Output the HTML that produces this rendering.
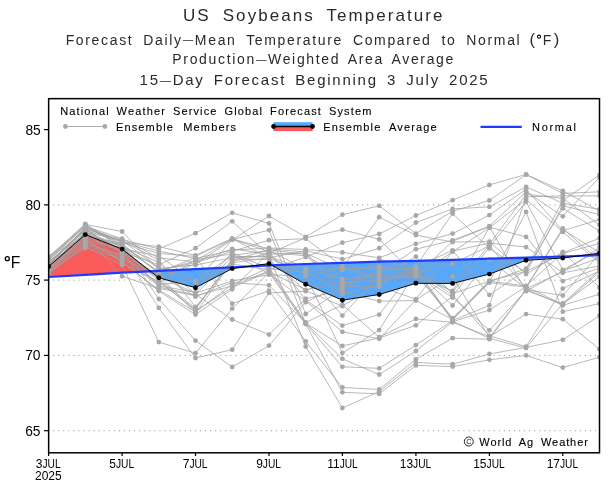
<!DOCTYPE html>
<html><head><meta charset="utf-8"><title>US Soybeans Temperature</title>
<style>html,body{margin:0;padding:0;background:#fff}svg{display:block}</style></head>
<body>
<svg width="616" height="485" viewBox="0 0 616 485" style="will-change:transform">
<rect width="616" height="485" fill="#fff"/>
<defs><clipPath id="cp"><rect x="48.6" y="98.6" width="550.9" height="354.2"/></clipPath></defs>
<g clip-path="url(#cp)">
<polygon points="48.6,266.5 85.3,234.6 122.1,249.1 150.4,271.2 150.4,271.2 122.1,272.7 85.3,274.8 48.6,277.0" fill="#fa5a5a"/>
<polygon points="248.2,266.4 269.0,263.6 271.8,265.2 271.8,265.2 269.0,265.3 248.2,266.4" fill="#fa5a5a"/>
<polygon points="579.0,255.9 599.5,253.2 599.5,255.1 579.0,255.9" fill="#fa5a5a"/>
<polygon points="150.4,271.2 158.8,277.8 195.5,287.7 232.2,268.6 248.2,266.4 248.2,266.4 232.2,267.3 195.5,269.1 158.8,270.8 150.4,271.2" fill="#55a8fc"/>
<polygon points="271.8,265.2 305.7,284.3 342.4,300.2 379.2,294.5 415.9,283.3 452.6,283.4 489.4,274.1 526.1,260.3 562.8,258.0 579.0,255.9 579.0,255.9 562.8,256.5 526.1,257.7 489.4,258.6 452.6,259.8 415.9,260.8 379.2,261.7 342.4,262.8 305.7,264.0 271.8,265.2" fill="#55a8fc"/>
<line x1="53.05" x2="599" y1="204.9" y2="204.9" stroke="#8c8c8c" stroke-width="0.9" stroke-dasharray="1.1 3.965"/>
<line x1="53.05" x2="599" y1="280.1" y2="280.1" stroke="#8c8c8c" stroke-width="0.9" stroke-dasharray="1.1 3.965"/>
<line x1="53.05" x2="599" y1="355.4" y2="355.4" stroke="#8c8c8c" stroke-width="0.9" stroke-dasharray="1.1 3.965"/>
<line x1="53.05" x2="599" y1="430.7" y2="430.7" stroke="#8c8c8c" stroke-width="0.9" stroke-dasharray="1.1 3.965"/>
<g stroke="#a0a0a0" stroke-width="0.75" fill="none" stroke-linejoin="round">
<polyline points="48.6,256.5 85.3,226.2 122.1,238.7 158.8,257.9 195.5,261.8 232.2,248.8 269.0,254.2 305.7,253.2 342.4,269.7 379.2,266.3 415.9,271.1 452.6,305.5 489.4,259.7 526.1,288.6 562.8,271.9 599.5,247.5"/>
<polyline points="48.6,257.2 85.3,223.8 122.1,248.5 158.8,277.8 195.5,263.9 232.2,239.9 269.0,216.0 305.7,236.9 342.4,214.7 379.2,205.8 415.9,233.6 452.6,211.2 489.4,200.4 526.1,174.7 562.8,193.4 599.5,191.8"/>
<polyline points="48.6,257.9 85.3,225.0 122.1,246.4 158.8,262.5 195.5,294.1 232.2,319.5 269.0,334.6 305.7,298.7 342.4,290.3 379.2,259.3 415.9,269.5 452.6,318.8 489.4,282.6 526.1,287.2 562.8,228.4 599.5,261.0"/>
<polyline points="48.6,258.6 85.3,225.6 122.1,242.2 158.8,246.6 195.5,255.3 232.2,238.4 269.0,258.6 305.7,273.3 342.4,315.6 379.2,274.8 415.9,276.7 452.6,251.8 489.4,227.7 526.1,199.3 562.8,231.9 599.5,263.0"/>
<polyline points="48.6,259.2 85.3,231.1 122.1,263.5 158.8,281.8 195.5,309.5 232.2,259.0 269.0,259.5 305.7,290.5 342.4,306.2 379.2,283.3 415.9,268.7 452.6,321.1 489.4,338.4 526.1,348.1 562.8,303.3 599.5,270.0"/>
<polyline points="48.6,259.9 85.3,226.8 122.1,244.3 158.8,299.0 195.5,340.6 232.2,367.0 269.0,345.6 305.7,302.2 342.4,284.6 379.2,273.1 415.9,249.2 452.6,240.3 489.4,226.1 526.1,191.8 562.8,216.3 599.5,177.4"/>
<polyline points="48.6,260.6 85.3,224.4 122.1,231.5 158.8,269.8 195.5,262.8 232.2,251.3 269.0,240.2 305.7,238.7 342.4,266.3 379.2,278.2 415.9,256.6 452.6,293.6 489.4,281.2 526.1,285.9 562.8,252.8 599.5,238.2"/>
<polyline points="48.6,261.3 85.3,233.6 122.1,247.1 158.8,267.0 195.5,282.6 232.2,239.6 269.0,230.1 305.7,323.6 342.4,366.8 379.2,368.3 415.9,345.1 452.6,320.5 489.4,305.4 526.1,196.8 562.8,195.9 599.5,195.9"/>
<polyline points="48.6,262.0 85.3,234.2 122.1,249.9 158.8,307.8 195.5,358.0 232.2,349.7 269.0,292.9 305.7,291.2 342.4,268.9 379.2,268.0 415.9,270.3 452.6,294.9 489.4,335.8 526.1,346.6 562.8,288.6 599.5,271.0"/>
<polyline points="48.6,262.5 85.3,228.1 122.1,242.9 158.8,253.4 195.5,256.4 232.2,238.8 269.0,248.9 305.7,252.0 342.4,294.1 379.2,285.0 415.9,266.3 452.6,213.5 489.4,248.4 526.1,272.7 562.8,205.8 599.5,214.5"/>
<polyline points="48.6,263.0 85.3,229.3 122.1,239.4 158.8,248.9 195.5,233.2 232.2,212.8 269.0,223.4 305.7,314.0 342.4,288.4 379.2,269.7 415.9,267.9 452.6,292.3 489.4,244.3 526.1,194.3 562.8,198.4 599.5,224.8"/>
<polyline points="48.6,263.5 85.3,230.5 122.1,240.8 158.8,260.2 195.5,307.0 232.2,262.8 269.0,257.7 305.7,250.8 342.4,259.2 379.2,248.2 415.9,222.6 452.6,208.9 489.4,206.8 526.1,186.8 562.8,203.3 599.5,209.3"/>
<polyline points="48.6,264.0 85.3,229.9 122.1,250.6 158.8,279.1 195.5,308.3 232.2,260.3 269.0,249.8 305.7,254.5 342.4,280.8 379.2,271.4 415.9,272.7 452.6,320.0 489.4,281.6 526.1,268.7 562.8,200.8 599.5,174.9"/>
<polyline points="48.6,264.5 85.3,234.8 122.1,245.7 158.8,287.1 195.5,294.9 232.2,256.4 269.0,256.8 305.7,274.8 342.4,353.1 379.2,330.1 415.9,271.9 452.6,264.1 489.4,245.7 526.1,287.9 562.8,229.6 599.5,252.6"/>
<polyline points="48.6,265.0 85.3,227.5 122.1,241.5 158.8,251.1 195.5,258.5 232.2,250.1 269.0,248.0 305.7,249.5 342.4,252.4 379.2,257.8 415.9,243.8 452.6,233.6 489.4,215.1 526.1,189.3 562.8,230.7 599.5,219.6"/>
<polyline points="48.6,265.5 85.3,228.7 122.1,253.2 158.8,275.1 195.5,313.3 232.2,261.5 269.0,253.3 305.7,237.8 342.4,229.7 379.2,239.3 415.9,275.9 452.6,241.2 489.4,226.6 526.1,291.2 562.8,270.9 599.5,258.0"/>
<polyline points="48.6,266.0 85.3,235.4 122.1,252.0 158.8,264.7 195.5,248.2 232.2,221.3 269.0,255.1 305.7,346.5 342.4,408.0 379.2,391.5 415.9,362.5 452.6,364.2 489.4,354.0 526.1,347.4 562.8,339.8 599.5,315.7"/>
<polyline points="48.6,266.5 85.3,232.3 122.1,240.1 158.8,268.5 195.5,265.0 232.2,257.7 269.0,256.0 305.7,270.4 342.4,268.0 379.2,217.2 415.9,235.1 452.6,242.0 489.4,241.6 526.1,274.0 562.8,252.0 599.5,287.5"/>
<polyline points="48.6,267.0 85.3,232.9 122.1,245.0 158.8,272.5 195.5,257.5 232.2,303.7 269.0,290.7 305.7,341.5 342.4,387.4 379.2,389.5 415.9,359.2 452.6,338.2 489.4,339.2 526.1,289.2 562.8,305.3 599.5,294.2"/>
<polyline points="48.6,267.5 85.3,231.7 122.1,249.2 158.8,255.7 195.5,281.9 232.2,264.1 269.0,269.8 305.7,257.0 342.4,242.7 379.2,234.0 415.9,215.5 452.6,200.2 489.4,184.9 526.1,174.4 562.8,190.9 599.5,211.0"/>
<polyline points="48.6,268.0 85.3,238.9 122.1,262.1 158.8,289.8 195.5,312.1 232.2,284.3 269.0,267.8 305.7,322.5 342.4,304.8 379.2,337.2 415.9,318.9 452.6,322.3 489.4,336.6 526.1,314.1 562.8,319.2 599.5,349.2"/>
<polyline points="48.6,268.5 85.3,236.6 122.1,243.6 158.8,273.8 195.5,296.7 232.2,282.6 269.0,285.3 305.7,323.2 342.4,345.9 379.2,338.0 415.9,325.3 452.6,296.2 489.4,247.0 526.1,201.8 562.8,270.0 599.5,250.6"/>
<polyline points="48.6,269.0 85.3,236.0 122.1,276.3 158.8,288.4 195.5,295.8 232.2,285.9 269.0,270.8 305.7,322.9 342.4,358.8 379.2,374.5 415.9,351.0 452.6,321.7 489.4,310.1 526.1,286.6 562.8,304.6 599.5,272.0"/>
<polyline points="48.6,269.5 85.3,242.8 122.1,256.1 158.8,283.1 195.5,259.6 232.2,253.9 269.0,273.7 305.7,301.0 342.4,331.8 379.2,338.8 415.9,299.8 452.6,276.4 489.4,337.5 526.1,289.9 562.8,295.5 599.5,254.0"/>
<polyline points="48.6,270.1 85.3,237.6 122.1,251.3 158.8,280.5 195.5,310.8 232.2,287.6 269.0,271.7 305.7,289.8 342.4,282.7 379.2,279.9 415.9,273.5 452.6,297.5 489.4,330.3 526.1,290.5 562.8,304.0 599.5,276.8"/>
<polyline points="48.6,270.7 85.3,240.2 122.1,260.6 158.8,291.1 195.5,314.6 232.2,289.3 269.0,252.4 305.7,255.8 342.4,286.5 379.2,286.7 415.9,299.1 452.6,251.1 489.4,243.0 526.1,247.1 562.8,272.8 599.5,266.0"/>
<polyline points="48.6,271.3 85.3,248.0 122.1,259.1 158.8,276.5 195.5,293.2 232.2,280.9 269.0,274.7 305.7,276.2 342.4,267.1 379.2,281.6 415.9,275.1 452.6,291.0 489.4,227.2 526.1,236.9 562.8,281.1 599.5,268.0"/>
<polyline points="48.6,272.0 85.3,241.5 122.1,247.8 158.8,271.2 195.5,260.7 232.2,239.2 269.0,251.5 305.7,299.9 342.4,325.6 379.2,314.6 415.9,267.1 452.6,250.3 489.4,294.9 526.1,270.0 562.8,208.3 599.5,231.0"/>
<polyline points="48.6,272.6 85.3,245.4 122.1,257.6 158.8,285.8 195.5,292.3 232.2,252.6 269.0,268.8 305.7,271.9 342.4,292.2 379.2,301.1 415.9,300.6 452.6,319.4 489.4,282.1 526.1,211.9 562.8,311.7 599.5,303.6"/>
<polyline points="48.6,273.2 85.3,246.7 122.1,265.0 158.8,342.1 195.5,353.2 232.2,308.6 269.0,272.7 305.7,324.0 342.4,392.3 379.2,393.9 415.9,365.4 452.6,366.6 489.4,359.8 526.1,355.4 562.8,367.6 599.5,357.2"/>
<polyline points="48.6,273.8 85.3,244.1 122.1,254.7 158.8,284.5 195.5,281.1 232.2,255.2 269.0,250.7 305.7,269.0 342.4,278.9 379.2,276.5 415.9,274.3 452.6,318.2 489.4,280.7 526.1,271.4 562.8,253.5 599.5,243.4"/>
</g>
<g fill="#a8a8a8">
<circle cx="48.6" cy="256.5" r="2.4"/>
<circle cx="85.3" cy="226.2" r="2.4"/>
<circle cx="122.1" cy="238.7" r="2.4"/>
<circle cx="158.8" cy="257.9" r="2.4"/>
<circle cx="195.5" cy="261.8" r="2.4"/>
<circle cx="232.2" cy="248.8" r="2.4"/>
<circle cx="269.0" cy="254.2" r="2.4"/>
<circle cx="305.7" cy="253.2" r="2.4"/>
<circle cx="342.4" cy="269.7" r="2.4"/>
<circle cx="379.2" cy="266.3" r="2.4"/>
<circle cx="415.9" cy="271.1" r="2.4"/>
<circle cx="452.6" cy="305.5" r="2.4"/>
<circle cx="489.4" cy="259.7" r="2.4"/>
<circle cx="526.1" cy="288.6" r="2.4"/>
<circle cx="562.8" cy="271.9" r="2.4"/>
<circle cx="599.5" cy="247.5" r="2.4"/>
<circle cx="48.6" cy="257.2" r="2.4"/>
<circle cx="85.3" cy="223.8" r="2.4"/>
<circle cx="122.1" cy="248.5" r="2.4"/>
<circle cx="158.8" cy="277.8" r="2.4"/>
<circle cx="195.5" cy="263.9" r="2.4"/>
<circle cx="232.2" cy="239.9" r="2.4"/>
<circle cx="269.0" cy="216.0" r="2.4"/>
<circle cx="305.7" cy="236.9" r="2.4"/>
<circle cx="342.4" cy="214.7" r="2.4"/>
<circle cx="379.2" cy="205.8" r="2.4"/>
<circle cx="415.9" cy="233.6" r="2.4"/>
<circle cx="452.6" cy="211.2" r="2.4"/>
<circle cx="489.4" cy="200.4" r="2.4"/>
<circle cx="526.1" cy="174.7" r="2.4"/>
<circle cx="562.8" cy="193.4" r="2.4"/>
<circle cx="599.5" cy="191.8" r="2.4"/>
<circle cx="48.6" cy="257.9" r="2.4"/>
<circle cx="85.3" cy="225.0" r="2.4"/>
<circle cx="122.1" cy="246.4" r="2.4"/>
<circle cx="158.8" cy="262.5" r="2.4"/>
<circle cx="195.5" cy="294.1" r="2.4"/>
<circle cx="232.2" cy="319.5" r="2.4"/>
<circle cx="269.0" cy="334.6" r="2.4"/>
<circle cx="305.7" cy="298.7" r="2.4"/>
<circle cx="342.4" cy="290.3" r="2.4"/>
<circle cx="379.2" cy="259.3" r="2.4"/>
<circle cx="415.9" cy="269.5" r="2.4"/>
<circle cx="452.6" cy="318.8" r="2.4"/>
<circle cx="489.4" cy="282.6" r="2.4"/>
<circle cx="526.1" cy="287.2" r="2.4"/>
<circle cx="562.8" cy="228.4" r="2.4"/>
<circle cx="599.5" cy="261.0" r="2.4"/>
<circle cx="48.6" cy="258.6" r="2.4"/>
<circle cx="85.3" cy="225.6" r="2.4"/>
<circle cx="122.1" cy="242.2" r="2.4"/>
<circle cx="158.8" cy="246.6" r="2.4"/>
<circle cx="195.5" cy="255.3" r="2.4"/>
<circle cx="232.2" cy="238.4" r="2.4"/>
<circle cx="269.0" cy="258.6" r="2.4"/>
<circle cx="305.7" cy="273.3" r="2.4"/>
<circle cx="342.4" cy="315.6" r="2.4"/>
<circle cx="379.2" cy="274.8" r="2.4"/>
<circle cx="415.9" cy="276.7" r="2.4"/>
<circle cx="452.6" cy="251.8" r="2.4"/>
<circle cx="489.4" cy="227.7" r="2.4"/>
<circle cx="526.1" cy="199.3" r="2.4"/>
<circle cx="562.8" cy="231.9" r="2.4"/>
<circle cx="599.5" cy="263.0" r="2.4"/>
<circle cx="48.6" cy="259.2" r="2.4"/>
<circle cx="85.3" cy="231.1" r="2.4"/>
<circle cx="122.1" cy="263.5" r="2.4"/>
<circle cx="158.8" cy="281.8" r="2.4"/>
<circle cx="195.5" cy="309.5" r="2.4"/>
<circle cx="232.2" cy="259.0" r="2.4"/>
<circle cx="269.0" cy="259.5" r="2.4"/>
<circle cx="305.7" cy="290.5" r="2.4"/>
<circle cx="342.4" cy="306.2" r="2.4"/>
<circle cx="379.2" cy="283.3" r="2.4"/>
<circle cx="415.9" cy="268.7" r="2.4"/>
<circle cx="452.6" cy="321.1" r="2.4"/>
<circle cx="489.4" cy="338.4" r="2.4"/>
<circle cx="526.1" cy="348.1" r="2.4"/>
<circle cx="562.8" cy="303.3" r="2.4"/>
<circle cx="599.5" cy="270.0" r="2.4"/>
<circle cx="48.6" cy="259.9" r="2.4"/>
<circle cx="85.3" cy="226.8" r="2.4"/>
<circle cx="122.1" cy="244.3" r="2.4"/>
<circle cx="158.8" cy="299.0" r="2.4"/>
<circle cx="195.5" cy="340.6" r="2.4"/>
<circle cx="232.2" cy="367.0" r="2.4"/>
<circle cx="269.0" cy="345.6" r="2.4"/>
<circle cx="305.7" cy="302.2" r="2.4"/>
<circle cx="342.4" cy="284.6" r="2.4"/>
<circle cx="379.2" cy="273.1" r="2.4"/>
<circle cx="415.9" cy="249.2" r="2.4"/>
<circle cx="452.6" cy="240.3" r="2.4"/>
<circle cx="489.4" cy="226.1" r="2.4"/>
<circle cx="526.1" cy="191.8" r="2.4"/>
<circle cx="562.8" cy="216.3" r="2.4"/>
<circle cx="599.5" cy="177.4" r="2.4"/>
<circle cx="48.6" cy="260.6" r="2.4"/>
<circle cx="85.3" cy="224.4" r="2.4"/>
<circle cx="122.1" cy="231.5" r="2.4"/>
<circle cx="158.8" cy="269.8" r="2.4"/>
<circle cx="195.5" cy="262.8" r="2.4"/>
<circle cx="232.2" cy="251.3" r="2.4"/>
<circle cx="269.0" cy="240.2" r="2.4"/>
<circle cx="305.7" cy="238.7" r="2.4"/>
<circle cx="342.4" cy="266.3" r="2.4"/>
<circle cx="379.2" cy="278.2" r="2.4"/>
<circle cx="415.9" cy="256.6" r="2.4"/>
<circle cx="452.6" cy="293.6" r="2.4"/>
<circle cx="489.4" cy="281.2" r="2.4"/>
<circle cx="526.1" cy="285.9" r="2.4"/>
<circle cx="562.8" cy="252.8" r="2.4"/>
<circle cx="599.5" cy="238.2" r="2.4"/>
<circle cx="48.6" cy="261.3" r="2.4"/>
<circle cx="85.3" cy="233.6" r="2.4"/>
<circle cx="122.1" cy="247.1" r="2.4"/>
<circle cx="158.8" cy="267.0" r="2.4"/>
<circle cx="195.5" cy="282.6" r="2.4"/>
<circle cx="232.2" cy="239.6" r="2.4"/>
<circle cx="269.0" cy="230.1" r="2.4"/>
<circle cx="305.7" cy="323.6" r="2.4"/>
<circle cx="342.4" cy="366.8" r="2.4"/>
<circle cx="379.2" cy="368.3" r="2.4"/>
<circle cx="415.9" cy="345.1" r="2.4"/>
<circle cx="452.6" cy="320.5" r="2.4"/>
<circle cx="489.4" cy="305.4" r="2.4"/>
<circle cx="526.1" cy="196.8" r="2.4"/>
<circle cx="562.8" cy="195.9" r="2.4"/>
<circle cx="599.5" cy="195.9" r="2.4"/>
<circle cx="48.6" cy="262.0" r="2.4"/>
<circle cx="85.3" cy="234.2" r="2.4"/>
<circle cx="122.1" cy="249.9" r="2.4"/>
<circle cx="158.8" cy="307.8" r="2.4"/>
<circle cx="195.5" cy="358.0" r="2.4"/>
<circle cx="232.2" cy="349.7" r="2.4"/>
<circle cx="269.0" cy="292.9" r="2.4"/>
<circle cx="305.7" cy="291.2" r="2.4"/>
<circle cx="342.4" cy="268.9" r="2.4"/>
<circle cx="379.2" cy="268.0" r="2.4"/>
<circle cx="415.9" cy="270.3" r="2.4"/>
<circle cx="452.6" cy="294.9" r="2.4"/>
<circle cx="489.4" cy="335.8" r="2.4"/>
<circle cx="526.1" cy="346.6" r="2.4"/>
<circle cx="562.8" cy="288.6" r="2.4"/>
<circle cx="599.5" cy="271.0" r="2.4"/>
<circle cx="48.6" cy="262.5" r="2.4"/>
<circle cx="85.3" cy="228.1" r="2.4"/>
<circle cx="122.1" cy="242.9" r="2.4"/>
<circle cx="158.8" cy="253.4" r="2.4"/>
<circle cx="195.5" cy="256.4" r="2.4"/>
<circle cx="232.2" cy="238.8" r="2.4"/>
<circle cx="269.0" cy="248.9" r="2.4"/>
<circle cx="305.7" cy="252.0" r="2.4"/>
<circle cx="342.4" cy="294.1" r="2.4"/>
<circle cx="379.2" cy="285.0" r="2.4"/>
<circle cx="415.9" cy="266.3" r="2.4"/>
<circle cx="452.6" cy="213.5" r="2.4"/>
<circle cx="489.4" cy="248.4" r="2.4"/>
<circle cx="526.1" cy="272.7" r="2.4"/>
<circle cx="562.8" cy="205.8" r="2.4"/>
<circle cx="599.5" cy="214.5" r="2.4"/>
<circle cx="48.6" cy="263.0" r="2.4"/>
<circle cx="85.3" cy="229.3" r="2.4"/>
<circle cx="122.1" cy="239.4" r="2.4"/>
<circle cx="158.8" cy="248.9" r="2.4"/>
<circle cx="195.5" cy="233.2" r="2.4"/>
<circle cx="232.2" cy="212.8" r="2.4"/>
<circle cx="269.0" cy="223.4" r="2.4"/>
<circle cx="305.7" cy="314.0" r="2.4"/>
<circle cx="342.4" cy="288.4" r="2.4"/>
<circle cx="379.2" cy="269.7" r="2.4"/>
<circle cx="415.9" cy="267.9" r="2.4"/>
<circle cx="452.6" cy="292.3" r="2.4"/>
<circle cx="489.4" cy="244.3" r="2.4"/>
<circle cx="526.1" cy="194.3" r="2.4"/>
<circle cx="562.8" cy="198.4" r="2.4"/>
<circle cx="599.5" cy="224.8" r="2.4"/>
<circle cx="48.6" cy="263.5" r="2.4"/>
<circle cx="85.3" cy="230.5" r="2.4"/>
<circle cx="122.1" cy="240.8" r="2.4"/>
<circle cx="158.8" cy="260.2" r="2.4"/>
<circle cx="195.5" cy="307.0" r="2.4"/>
<circle cx="232.2" cy="262.8" r="2.4"/>
<circle cx="269.0" cy="257.7" r="2.4"/>
<circle cx="305.7" cy="250.8" r="2.4"/>
<circle cx="342.4" cy="259.2" r="2.4"/>
<circle cx="379.2" cy="248.2" r="2.4"/>
<circle cx="415.9" cy="222.6" r="2.4"/>
<circle cx="452.6" cy="208.9" r="2.4"/>
<circle cx="489.4" cy="206.8" r="2.4"/>
<circle cx="526.1" cy="186.8" r="2.4"/>
<circle cx="562.8" cy="203.3" r="2.4"/>
<circle cx="599.5" cy="209.3" r="2.4"/>
<circle cx="48.6" cy="264.0" r="2.4"/>
<circle cx="85.3" cy="229.9" r="2.4"/>
<circle cx="122.1" cy="250.6" r="2.4"/>
<circle cx="158.8" cy="279.1" r="2.4"/>
<circle cx="195.5" cy="308.3" r="2.4"/>
<circle cx="232.2" cy="260.3" r="2.4"/>
<circle cx="269.0" cy="249.8" r="2.4"/>
<circle cx="305.7" cy="254.5" r="2.4"/>
<circle cx="342.4" cy="280.8" r="2.4"/>
<circle cx="379.2" cy="271.4" r="2.4"/>
<circle cx="415.9" cy="272.7" r="2.4"/>
<circle cx="452.6" cy="320.0" r="2.4"/>
<circle cx="489.4" cy="281.6" r="2.4"/>
<circle cx="526.1" cy="268.7" r="2.4"/>
<circle cx="562.8" cy="200.8" r="2.4"/>
<circle cx="599.5" cy="174.9" r="2.4"/>
<circle cx="48.6" cy="264.5" r="2.4"/>
<circle cx="85.3" cy="234.8" r="2.4"/>
<circle cx="122.1" cy="245.7" r="2.4"/>
<circle cx="158.8" cy="287.1" r="2.4"/>
<circle cx="195.5" cy="294.9" r="2.4"/>
<circle cx="232.2" cy="256.4" r="2.4"/>
<circle cx="269.0" cy="256.8" r="2.4"/>
<circle cx="305.7" cy="274.8" r="2.4"/>
<circle cx="342.4" cy="353.1" r="2.4"/>
<circle cx="379.2" cy="330.1" r="2.4"/>
<circle cx="415.9" cy="271.9" r="2.4"/>
<circle cx="452.6" cy="264.1" r="2.4"/>
<circle cx="489.4" cy="245.7" r="2.4"/>
<circle cx="526.1" cy="287.9" r="2.4"/>
<circle cx="562.8" cy="229.6" r="2.4"/>
<circle cx="599.5" cy="252.6" r="2.4"/>
<circle cx="48.6" cy="265.0" r="2.4"/>
<circle cx="85.3" cy="227.5" r="2.4"/>
<circle cx="122.1" cy="241.5" r="2.4"/>
<circle cx="158.8" cy="251.1" r="2.4"/>
<circle cx="195.5" cy="258.5" r="2.4"/>
<circle cx="232.2" cy="250.1" r="2.4"/>
<circle cx="269.0" cy="248.0" r="2.4"/>
<circle cx="305.7" cy="249.5" r="2.4"/>
<circle cx="342.4" cy="252.4" r="2.4"/>
<circle cx="379.2" cy="257.8" r="2.4"/>
<circle cx="415.9" cy="243.8" r="2.4"/>
<circle cx="452.6" cy="233.6" r="2.4"/>
<circle cx="489.4" cy="215.1" r="2.4"/>
<circle cx="526.1" cy="189.3" r="2.4"/>
<circle cx="562.8" cy="230.7" r="2.4"/>
<circle cx="599.5" cy="219.6" r="2.4"/>
<circle cx="48.6" cy="265.5" r="2.4"/>
<circle cx="85.3" cy="228.7" r="2.4"/>
<circle cx="122.1" cy="253.2" r="2.4"/>
<circle cx="158.8" cy="275.1" r="2.4"/>
<circle cx="195.5" cy="313.3" r="2.4"/>
<circle cx="232.2" cy="261.5" r="2.4"/>
<circle cx="269.0" cy="253.3" r="2.4"/>
<circle cx="305.7" cy="237.8" r="2.4"/>
<circle cx="342.4" cy="229.7" r="2.4"/>
<circle cx="379.2" cy="239.3" r="2.4"/>
<circle cx="415.9" cy="275.9" r="2.4"/>
<circle cx="452.6" cy="241.2" r="2.4"/>
<circle cx="489.4" cy="226.6" r="2.4"/>
<circle cx="526.1" cy="291.2" r="2.4"/>
<circle cx="562.8" cy="270.9" r="2.4"/>
<circle cx="599.5" cy="258.0" r="2.4"/>
<circle cx="48.6" cy="266.0" r="2.4"/>
<circle cx="85.3" cy="235.4" r="2.4"/>
<circle cx="122.1" cy="252.0" r="2.4"/>
<circle cx="158.8" cy="264.7" r="2.4"/>
<circle cx="195.5" cy="248.2" r="2.4"/>
<circle cx="232.2" cy="221.3" r="2.4"/>
<circle cx="269.0" cy="255.1" r="2.4"/>
<circle cx="305.7" cy="346.5" r="2.4"/>
<circle cx="342.4" cy="408.0" r="2.4"/>
<circle cx="379.2" cy="391.5" r="2.4"/>
<circle cx="415.9" cy="362.5" r="2.4"/>
<circle cx="452.6" cy="364.2" r="2.4"/>
<circle cx="489.4" cy="354.0" r="2.4"/>
<circle cx="526.1" cy="347.4" r="2.4"/>
<circle cx="562.8" cy="339.8" r="2.4"/>
<circle cx="599.5" cy="315.7" r="2.4"/>
<circle cx="48.6" cy="266.5" r="2.4"/>
<circle cx="85.3" cy="232.3" r="2.4"/>
<circle cx="122.1" cy="240.1" r="2.4"/>
<circle cx="158.8" cy="268.5" r="2.4"/>
<circle cx="195.5" cy="265.0" r="2.4"/>
<circle cx="232.2" cy="257.7" r="2.4"/>
<circle cx="269.0" cy="256.0" r="2.4"/>
<circle cx="305.7" cy="270.4" r="2.4"/>
<circle cx="342.4" cy="268.0" r="2.4"/>
<circle cx="379.2" cy="217.2" r="2.4"/>
<circle cx="415.9" cy="235.1" r="2.4"/>
<circle cx="452.6" cy="242.0" r="2.4"/>
<circle cx="489.4" cy="241.6" r="2.4"/>
<circle cx="526.1" cy="274.0" r="2.4"/>
<circle cx="562.8" cy="252.0" r="2.4"/>
<circle cx="599.5" cy="287.5" r="2.4"/>
<circle cx="48.6" cy="267.0" r="2.4"/>
<circle cx="85.3" cy="232.9" r="2.4"/>
<circle cx="122.1" cy="245.0" r="2.4"/>
<circle cx="158.8" cy="272.5" r="2.4"/>
<circle cx="195.5" cy="257.5" r="2.4"/>
<circle cx="232.2" cy="303.7" r="2.4"/>
<circle cx="269.0" cy="290.7" r="2.4"/>
<circle cx="305.7" cy="341.5" r="2.4"/>
<circle cx="342.4" cy="387.4" r="2.4"/>
<circle cx="379.2" cy="389.5" r="2.4"/>
<circle cx="415.9" cy="359.2" r="2.4"/>
<circle cx="452.6" cy="338.2" r="2.4"/>
<circle cx="489.4" cy="339.2" r="2.4"/>
<circle cx="526.1" cy="289.2" r="2.4"/>
<circle cx="562.8" cy="305.3" r="2.4"/>
<circle cx="599.5" cy="294.2" r="2.4"/>
<circle cx="48.6" cy="267.5" r="2.4"/>
<circle cx="85.3" cy="231.7" r="2.4"/>
<circle cx="122.1" cy="249.2" r="2.4"/>
<circle cx="158.8" cy="255.7" r="2.4"/>
<circle cx="195.5" cy="281.9" r="2.4"/>
<circle cx="232.2" cy="264.1" r="2.4"/>
<circle cx="269.0" cy="269.8" r="2.4"/>
<circle cx="305.7" cy="257.0" r="2.4"/>
<circle cx="342.4" cy="242.7" r="2.4"/>
<circle cx="379.2" cy="234.0" r="2.4"/>
<circle cx="415.9" cy="215.5" r="2.4"/>
<circle cx="452.6" cy="200.2" r="2.4"/>
<circle cx="489.4" cy="184.9" r="2.4"/>
<circle cx="526.1" cy="174.4" r="2.4"/>
<circle cx="562.8" cy="190.9" r="2.4"/>
<circle cx="599.5" cy="211.0" r="2.4"/>
<circle cx="48.6" cy="268.0" r="2.4"/>
<circle cx="85.3" cy="238.9" r="2.4"/>
<circle cx="122.1" cy="262.1" r="2.4"/>
<circle cx="158.8" cy="289.8" r="2.4"/>
<circle cx="195.5" cy="312.1" r="2.4"/>
<circle cx="232.2" cy="284.3" r="2.4"/>
<circle cx="269.0" cy="267.8" r="2.4"/>
<circle cx="305.7" cy="322.5" r="2.4"/>
<circle cx="342.4" cy="304.8" r="2.4"/>
<circle cx="379.2" cy="337.2" r="2.4"/>
<circle cx="415.9" cy="318.9" r="2.4"/>
<circle cx="452.6" cy="322.3" r="2.4"/>
<circle cx="489.4" cy="336.6" r="2.4"/>
<circle cx="526.1" cy="314.1" r="2.4"/>
<circle cx="562.8" cy="319.2" r="2.4"/>
<circle cx="599.5" cy="349.2" r="2.4"/>
<circle cx="48.6" cy="268.5" r="2.4"/>
<circle cx="85.3" cy="236.6" r="2.4"/>
<circle cx="122.1" cy="243.6" r="2.4"/>
<circle cx="158.8" cy="273.8" r="2.4"/>
<circle cx="195.5" cy="296.7" r="2.4"/>
<circle cx="232.2" cy="282.6" r="2.4"/>
<circle cx="269.0" cy="285.3" r="2.4"/>
<circle cx="305.7" cy="323.2" r="2.4"/>
<circle cx="342.4" cy="345.9" r="2.4"/>
<circle cx="379.2" cy="338.0" r="2.4"/>
<circle cx="415.9" cy="325.3" r="2.4"/>
<circle cx="452.6" cy="296.2" r="2.4"/>
<circle cx="489.4" cy="247.0" r="2.4"/>
<circle cx="526.1" cy="201.8" r="2.4"/>
<circle cx="562.8" cy="270.0" r="2.4"/>
<circle cx="599.5" cy="250.6" r="2.4"/>
<circle cx="48.6" cy="269.0" r="2.4"/>
<circle cx="85.3" cy="236.0" r="2.4"/>
<circle cx="122.1" cy="276.3" r="2.4"/>
<circle cx="158.8" cy="288.4" r="2.4"/>
<circle cx="195.5" cy="295.8" r="2.4"/>
<circle cx="232.2" cy="285.9" r="2.4"/>
<circle cx="269.0" cy="270.8" r="2.4"/>
<circle cx="305.7" cy="322.9" r="2.4"/>
<circle cx="342.4" cy="358.8" r="2.4"/>
<circle cx="379.2" cy="374.5" r="2.4"/>
<circle cx="415.9" cy="351.0" r="2.4"/>
<circle cx="452.6" cy="321.7" r="2.4"/>
<circle cx="489.4" cy="310.1" r="2.4"/>
<circle cx="526.1" cy="286.6" r="2.4"/>
<circle cx="562.8" cy="304.6" r="2.4"/>
<circle cx="599.5" cy="272.0" r="2.4"/>
<circle cx="48.6" cy="269.5" r="2.4"/>
<circle cx="85.3" cy="242.8" r="2.4"/>
<circle cx="122.1" cy="256.1" r="2.4"/>
<circle cx="158.8" cy="283.1" r="2.4"/>
<circle cx="195.5" cy="259.6" r="2.4"/>
<circle cx="232.2" cy="253.9" r="2.4"/>
<circle cx="269.0" cy="273.7" r="2.4"/>
<circle cx="305.7" cy="301.0" r="2.4"/>
<circle cx="342.4" cy="331.8" r="2.4"/>
<circle cx="379.2" cy="338.8" r="2.4"/>
<circle cx="415.9" cy="299.8" r="2.4"/>
<circle cx="452.6" cy="276.4" r="2.4"/>
<circle cx="489.4" cy="337.5" r="2.4"/>
<circle cx="526.1" cy="289.9" r="2.4"/>
<circle cx="562.8" cy="295.5" r="2.4"/>
<circle cx="599.5" cy="254.0" r="2.4"/>
<circle cx="48.6" cy="270.1" r="2.4"/>
<circle cx="85.3" cy="237.6" r="2.4"/>
<circle cx="122.1" cy="251.3" r="2.4"/>
<circle cx="158.8" cy="280.5" r="2.4"/>
<circle cx="195.5" cy="310.8" r="2.4"/>
<circle cx="232.2" cy="287.6" r="2.4"/>
<circle cx="269.0" cy="271.7" r="2.4"/>
<circle cx="305.7" cy="289.8" r="2.4"/>
<circle cx="342.4" cy="282.7" r="2.4"/>
<circle cx="379.2" cy="279.9" r="2.4"/>
<circle cx="415.9" cy="273.5" r="2.4"/>
<circle cx="452.6" cy="297.5" r="2.4"/>
<circle cx="489.4" cy="330.3" r="2.4"/>
<circle cx="526.1" cy="290.5" r="2.4"/>
<circle cx="562.8" cy="304.0" r="2.4"/>
<circle cx="599.5" cy="276.8" r="2.4"/>
<circle cx="48.6" cy="270.7" r="2.4"/>
<circle cx="85.3" cy="240.2" r="2.4"/>
<circle cx="122.1" cy="260.6" r="2.4"/>
<circle cx="158.8" cy="291.1" r="2.4"/>
<circle cx="195.5" cy="314.6" r="2.4"/>
<circle cx="232.2" cy="289.3" r="2.4"/>
<circle cx="269.0" cy="252.4" r="2.4"/>
<circle cx="305.7" cy="255.8" r="2.4"/>
<circle cx="342.4" cy="286.5" r="2.4"/>
<circle cx="379.2" cy="286.7" r="2.4"/>
<circle cx="415.9" cy="299.1" r="2.4"/>
<circle cx="452.6" cy="251.1" r="2.4"/>
<circle cx="489.4" cy="243.0" r="2.4"/>
<circle cx="526.1" cy="247.1" r="2.4"/>
<circle cx="562.8" cy="272.8" r="2.4"/>
<circle cx="599.5" cy="266.0" r="2.4"/>
<circle cx="48.6" cy="271.3" r="2.4"/>
<circle cx="85.3" cy="248.0" r="2.4"/>
<circle cx="122.1" cy="259.1" r="2.4"/>
<circle cx="158.8" cy="276.5" r="2.4"/>
<circle cx="195.5" cy="293.2" r="2.4"/>
<circle cx="232.2" cy="280.9" r="2.4"/>
<circle cx="269.0" cy="274.7" r="2.4"/>
<circle cx="305.7" cy="276.2" r="2.4"/>
<circle cx="342.4" cy="267.1" r="2.4"/>
<circle cx="379.2" cy="281.6" r="2.4"/>
<circle cx="415.9" cy="275.1" r="2.4"/>
<circle cx="452.6" cy="291.0" r="2.4"/>
<circle cx="489.4" cy="227.2" r="2.4"/>
<circle cx="526.1" cy="236.9" r="2.4"/>
<circle cx="562.8" cy="281.1" r="2.4"/>
<circle cx="599.5" cy="268.0" r="2.4"/>
<circle cx="48.6" cy="272.0" r="2.4"/>
<circle cx="85.3" cy="241.5" r="2.4"/>
<circle cx="122.1" cy="247.8" r="2.4"/>
<circle cx="158.8" cy="271.2" r="2.4"/>
<circle cx="195.5" cy="260.7" r="2.4"/>
<circle cx="232.2" cy="239.2" r="2.4"/>
<circle cx="269.0" cy="251.5" r="2.4"/>
<circle cx="305.7" cy="299.9" r="2.4"/>
<circle cx="342.4" cy="325.6" r="2.4"/>
<circle cx="379.2" cy="314.6" r="2.4"/>
<circle cx="415.9" cy="267.1" r="2.4"/>
<circle cx="452.6" cy="250.3" r="2.4"/>
<circle cx="489.4" cy="294.9" r="2.4"/>
<circle cx="526.1" cy="270.0" r="2.4"/>
<circle cx="562.8" cy="208.3" r="2.4"/>
<circle cx="599.5" cy="231.0" r="2.4"/>
<circle cx="48.6" cy="272.6" r="2.4"/>
<circle cx="85.3" cy="245.4" r="2.4"/>
<circle cx="122.1" cy="257.6" r="2.4"/>
<circle cx="158.8" cy="285.8" r="2.4"/>
<circle cx="195.5" cy="292.3" r="2.4"/>
<circle cx="232.2" cy="252.6" r="2.4"/>
<circle cx="269.0" cy="268.8" r="2.4"/>
<circle cx="305.7" cy="271.9" r="2.4"/>
<circle cx="342.4" cy="292.2" r="2.4"/>
<circle cx="379.2" cy="301.1" r="2.4"/>
<circle cx="415.9" cy="300.6" r="2.4"/>
<circle cx="452.6" cy="319.4" r="2.4"/>
<circle cx="489.4" cy="282.1" r="2.4"/>
<circle cx="526.1" cy="211.9" r="2.4"/>
<circle cx="562.8" cy="311.7" r="2.4"/>
<circle cx="599.5" cy="303.6" r="2.4"/>
<circle cx="48.6" cy="273.2" r="2.4"/>
<circle cx="85.3" cy="246.7" r="2.4"/>
<circle cx="122.1" cy="265.0" r="2.4"/>
<circle cx="158.8" cy="342.1" r="2.4"/>
<circle cx="195.5" cy="353.2" r="2.4"/>
<circle cx="232.2" cy="308.6" r="2.4"/>
<circle cx="269.0" cy="272.7" r="2.4"/>
<circle cx="305.7" cy="324.0" r="2.4"/>
<circle cx="342.4" cy="392.3" r="2.4"/>
<circle cx="379.2" cy="393.9" r="2.4"/>
<circle cx="415.9" cy="365.4" r="2.4"/>
<circle cx="452.6" cy="366.6" r="2.4"/>
<circle cx="489.4" cy="359.8" r="2.4"/>
<circle cx="526.1" cy="355.4" r="2.4"/>
<circle cx="562.8" cy="367.6" r="2.4"/>
<circle cx="599.5" cy="357.2" r="2.4"/>
<circle cx="48.6" cy="273.8" r="2.4"/>
<circle cx="85.3" cy="244.1" r="2.4"/>
<circle cx="122.1" cy="254.7" r="2.4"/>
<circle cx="158.8" cy="284.5" r="2.4"/>
<circle cx="195.5" cy="281.1" r="2.4"/>
<circle cx="232.2" cy="255.2" r="2.4"/>
<circle cx="269.0" cy="250.7" r="2.4"/>
<circle cx="305.7" cy="269.0" r="2.4"/>
<circle cx="342.4" cy="278.9" r="2.4"/>
<circle cx="379.2" cy="276.5" r="2.4"/>
<circle cx="415.9" cy="274.3" r="2.4"/>
<circle cx="452.6" cy="318.2" r="2.4"/>
<circle cx="489.4" cy="280.7" r="2.4"/>
<circle cx="526.1" cy="271.4" r="2.4"/>
<circle cx="562.8" cy="253.5" r="2.4"/>
<circle cx="599.5" cy="243.4" r="2.4"/>
</g>
<polyline points="48.6,277.0 85.3,274.8 122.1,272.7 158.8,270.8 195.5,269.1 232.2,267.3 269.0,265.3 305.7,264.0 342.4,262.8 379.2,261.7 415.9,260.8 452.6,259.8 489.4,258.6 526.1,257.7 562.8,256.5 599.5,255.1" fill="none" stroke="#1e3cff" stroke-width="2.2" stroke-linejoin="round"/>
<polyline points="48.6,266.5 85.3,234.6 122.1,249.1 158.8,277.8 195.5,287.7 232.2,268.6 269.0,263.6 305.7,284.3 342.4,300.2 379.2,294.5 415.9,283.3 452.6,283.4 489.4,274.1 526.1,260.3 562.8,258.0 599.5,253.2" fill="none" stroke="#000" stroke-width="0.95" stroke-linejoin="round"/>
<circle cx="48.6" cy="266.5" r="2.45" fill="#000"/>
<circle cx="85.3" cy="234.6" r="2.45" fill="#000"/>
<circle cx="122.1" cy="249.1" r="2.45" fill="#000"/>
<circle cx="158.8" cy="277.8" r="2.45" fill="#000"/>
<circle cx="195.5" cy="287.7" r="2.45" fill="#000"/>
<circle cx="232.2" cy="268.6" r="2.45" fill="#000"/>
<circle cx="269.0" cy="263.6" r="2.45" fill="#000"/>
<circle cx="305.7" cy="284.3" r="2.45" fill="#000"/>
<circle cx="342.4" cy="300.2" r="2.45" fill="#000"/>
<circle cx="379.2" cy="294.5" r="2.45" fill="#000"/>
<circle cx="415.9" cy="283.3" r="2.45" fill="#000"/>
<circle cx="452.6" cy="283.4" r="2.45" fill="#000"/>
<circle cx="489.4" cy="274.1" r="2.45" fill="#000"/>
<circle cx="526.1" cy="260.3" r="2.45" fill="#000"/>
<circle cx="562.8" cy="258.0" r="2.45" fill="#000"/>
<circle cx="599.5" cy="253.2" r="2.45" fill="#000"/>
</g>
<g>
<line x1="65.4" x2="104.9" y1="126.5" y2="126.5" stroke="#aaa" stroke-width="1"/>
<circle cx="65.4" cy="126.5" r="2.4" fill="#a8a8a8"/><circle cx="104.9" cy="126.5" r="2.4" fill="#a8a8a8"/>
<rect x="273.4" y="122.2" width="39.3" height="4.3" fill="#55a8fc"/>
<rect x="273.4" y="126.5" width="39.3" height="4.6" fill="#fa5a5a"/>
<line x1="273.6" x2="312.5" y1="126.5" y2="126.5" stroke="#000" stroke-width="1.4"/>
<circle cx="273.6" cy="126.5" r="2.4" fill="#000"/><circle cx="312.5" cy="126.5" r="2.4" fill="#000"/>
<line x1="480.5" x2="521.8" y1="126.8" y2="126.8" stroke="#1e3cff" stroke-width="2.2"/>
</g>
<rect x="48.65" y="98.65" width="550.85" height="354.15" fill="none" stroke="#000" stroke-width="1.5"/>
<line x1="44" x2="48" y1="129.6" y2="129.6" stroke="#000" stroke-width="1.2"/>
<line x1="44" x2="48" y1="204.9" y2="204.9" stroke="#000" stroke-width="1.2"/>
<line x1="44" x2="48" y1="280.1" y2="280.1" stroke="#000" stroke-width="1.2"/>
<line x1="44" x2="48" y1="355.4" y2="355.4" stroke="#000" stroke-width="1.2"/>
<line x1="44" x2="48" y1="430.7" y2="430.7" stroke="#000" stroke-width="1.2"/>
<line x1="48.6" x2="48.6" y1="453" y2="456" stroke="#000" stroke-width="1.2"/>
<line x1="122.1" x2="122.1" y1="453" y2="456" stroke="#000" stroke-width="1.2"/>
<line x1="195.5" x2="195.5" y1="453" y2="456" stroke="#000" stroke-width="1.2"/>
<line x1="269.0" x2="269.0" y1="453" y2="456" stroke="#000" stroke-width="1.2"/>
<line x1="342.4" x2="342.4" y1="453" y2="456" stroke="#000" stroke-width="1.2"/>
<line x1="415.9" x2="415.9" y1="453" y2="456" stroke="#000" stroke-width="1.2"/>
<line x1="489.4" x2="489.4" y1="453" y2="456" stroke="#000" stroke-width="1.2"/>
<line x1="562.8" x2="562.8" y1="453" y2="456" stroke="#000" stroke-width="1.2"/>
<g font-family="'Liberation Sans', sans-serif" style="filter:grayscale(1)">
<text x="183.05" y="21.10" font-size="17" letter-spacing="2.050" word-spacing="5.200" font-weight="normal" fill="#2a2a2a" xml:space="preserve">US Soybeans Temperature</text>
<text x="65.65" y="44.50" font-size="14" letter-spacing="1.660" word-spacing="4.330" font-weight="normal" fill="#2a2a2a" xml:space="preserve">Forecast Daily<tspan font-size="10.5" dy="-1.1">—</tspan><tspan dy="1.1">Mean Temperature Compared to Normal</tspan></text>
<text x="529.60" y="45.00" font-size="16.5" letter-spacing="0.000" word-spacing="0.000" font-weight="normal" fill="#2a2a2a" xml:space="preserve">(</text>
<text x="542.65" y="44.50" font-size="14" letter-spacing="0.000" word-spacing="0.000" font-weight="normal" fill="#2a2a2a" xml:space="preserve">F</text>
<text x="553.75" y="45.00" font-size="16.5" letter-spacing="0.000" word-spacing="0.000" font-weight="normal" fill="#2a2a2a" xml:space="preserve">)</text>
<text x="172.35" y="64.20" font-size="14" letter-spacing="1.660" word-spacing="2.750" font-weight="normal" fill="#2a2a2a" xml:space="preserve">Production<tspan font-size="10.5" dy="-1.1">—</tspan><tspan dy="1.1">Weighted Area Average</tspan></text>
<text x="139.55" y="84.60" font-size="15" letter-spacing="1.750" word-spacing="3.260" font-weight="normal" fill="#2a2a2a" xml:space="preserve">15<tspan font-size="11.2" dy="-1.1">—</tspan><tspan dy="1.1">Day Forecast Beginning 3 July 2025</tspan></text>
<text x="60.20" y="115.30" font-size="11" letter-spacing="1.150" word-spacing="2.660" font-weight="normal" fill="#000" stroke="#000" stroke-width="0.12" xml:space="preserve">National Weather Service Global Forecast System</text>
<text x="115.90" y="130.80" font-size="11" letter-spacing="1.150" word-spacing="5.050" font-weight="normal" fill="#000" stroke="#000" stroke-width="0.12" xml:space="preserve">Ensemble Members</text>
<text x="323.30" y="130.90" font-size="11" letter-spacing="1.150" word-spacing="4.000" font-weight="normal" fill="#000" stroke="#000" stroke-width="0.12" xml:space="preserve">Ensemble Average</text>
<text x="532.00" y="130.70" font-size="11" letter-spacing="1.710" word-spacing="0.000" font-weight="normal" fill="#000" stroke="#000" stroke-width="0.12" xml:space="preserve">Normal</text>
<text x="479.30" y="445.50" font-size="11" letter-spacing="0.900" word-spacing="3.075" font-weight="normal" fill="#000" stroke="#000" stroke-width="0.12" xml:space="preserve">World Ag Weather</text>
<text x="35.00" y="479.60" font-size="12" letter-spacing="0.000" word-spacing="0.000" font-weight="normal" fill="#000" xml:space="preserve">2025</text>
<text x="10.75" y="267.90" font-size="15.6" letter-spacing="0.000" word-spacing="0.000" font-weight="normal" fill="#000" xml:space="preserve">F</text>
<text x="25.40" y="134.60" font-size="13.8" letter-spacing="0.000" word-spacing="0.000" font-weight="normal" fill="#000" xml:space="preserve">85</text>
<text x="25.40" y="209.88" font-size="13.8" letter-spacing="0.000" word-spacing="0.000" font-weight="normal" fill="#000" xml:space="preserve">80</text>
<text x="25.15" y="285.15" font-size="13.8" letter-spacing="0.000" word-spacing="0.000" font-weight="normal" fill="#000" xml:space="preserve">75</text>
<text x="25.15" y="360.42" font-size="13.8" letter-spacing="0.000" word-spacing="0.000" font-weight="normal" fill="#000" xml:space="preserve">70</text>
<text x="25.15" y="435.70" font-size="13.8" letter-spacing="0.000" word-spacing="0.000" font-weight="normal" fill="#000" xml:space="preserve">65</text>
<circle cx="7.3" cy="258.7" r="2.0" fill="none" stroke="#000" stroke-width="1.3"/>
<circle cx="539.0" cy="36.7" r="1.55" fill="none" stroke="#000" stroke-width="1.1"/>
<circle cx="468.8" cy="441.5" r="4.5" fill="none" stroke="#1a1a1a" stroke-width="0.95"/>
<text x="468.8" y="444.1" font-size="7.4" text-anchor="middle" fill="#000">C</text>
<text x="42.47" y="467.8" font-size="12" text-anchor="end" fill="#000">3</text>
<text transform="translate(42.47,467.8) scale(0.850,1)" font-size="12" fill="#000">JUL</text>
<text x="115.93" y="467.8" font-size="12" text-anchor="end" fill="#000">5</text>
<text transform="translate(115.93,467.8) scale(0.850,1)" font-size="12" fill="#000">JUL</text>
<text x="189.39" y="467.8" font-size="12" text-anchor="end" fill="#000">7</text>
<text transform="translate(189.39,467.8) scale(0.850,1)" font-size="12" fill="#000">JUL</text>
<text x="262.85" y="467.8" font-size="12" text-anchor="end" fill="#000">9</text>
<text transform="translate(262.85,467.8) scale(0.850,1)" font-size="12" fill="#000">JUL</text>
<text x="339.64" y="467.8" font-size="12" text-anchor="end" fill="#000">11</text>
<text transform="translate(339.64,467.8) scale(0.850,1)" font-size="12" fill="#000">JUL</text>
<text x="413.10" y="467.8" font-size="12" text-anchor="end" fill="#000">13</text>
<text transform="translate(413.10,467.8) scale(0.850,1)" font-size="12" fill="#000">JUL</text>
<text x="486.56" y="467.8" font-size="12" text-anchor="end" fill="#000">15</text>
<text transform="translate(486.56,467.8) scale(0.850,1)" font-size="12" fill="#000">JUL</text>
<text x="560.02" y="467.8" font-size="12" text-anchor="end" fill="#000">17</text>
<text transform="translate(560.02,467.8) scale(0.850,1)" font-size="12" fill="#000">JUL</text>
</g>
</svg>
</body></html>
